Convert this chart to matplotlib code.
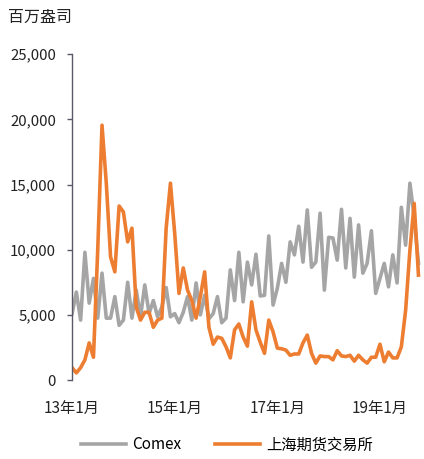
import matplotlib
matplotlib.use("Agg")
import matplotlib.pyplot as plt
from matplotlib.ticker import FuncFormatter

plt.rcParams["font.family"] = ["Noto Sans CJK SC", "DejaVu Sans"]

# monthly inventory, Jan 2013 - Oct 2019 (million ounces)
comex = [
    5100, 6750, 4600, 9800, 5900, 7800, 4750, 8200, 4750, 4750,
    6400, 4200, 4600, 7500, 4750, 6900, 4850, 7300, 5100, 6100,
    4850, 5600, 7100, 4850, 5100, 4400, 5200, 6400, 4600, 7450,
    5000, 6500, 4700, 5100, 6400, 4400, 4750, 8450, 6100, 9800,
    6000, 9050, 7300, 9650, 6450, 6500, 11050, 5750, 7050, 8950,
    7500, 10600, 9600, 11800, 9050, 13050, 8650, 9050, 12800, 6900,
    10950, 10900, 9200, 13100, 8600, 12400, 7900, 11900, 8200, 8950,
    11450, 6650, 7800, 8950, 7150, 9600, 7450, 13250, 10350, 15100,
    12500, 8950,
]
shfe = [
    950, 550, 950, 1550, 2850, 1750, 10000, 19550, 15100, 9450,
    8300, 13350, 12900, 10600, 11650, 5600, 4600, 5200, 5200, 4050,
    4600, 4750, 11650, 15100, 11250, 6650, 8600, 6900, 6100, 4750,
    6400, 8300, 4050, 2750, 3300, 3200, 2550, 1700, 3850, 4300,
    3300, 2600, 6000, 3850, 2900, 2050, 4600, 3700, 2450, 2400,
    2300, 1900, 2000, 2000, 2850, 3450, 2050, 1300, 1850, 1800,
    1800, 1550, 2250, 1850, 1800, 1900, 1450, 1900, 1550, 1300,
    1750, 1750, 2750, 1400, 2150, 1700, 1700, 2550, 5350, 9950,
    13550, 8050,
]
tick_pos = [0, 24, 48, 72]
tick_labels = ["13年1月", "15年1月", "17年1月", "19年1月"]

months = list(range(len(comex)))

fig = plt.figure(figsize=(4.24, 4.59), dpi=100)
ax = fig.add_axes([0.170, 0.172, 0.827, 0.710])

ax.plot(months, comex, color="#A5A5A5", lw=2.6, label="Comex", solid_joinstyle="round")
ax.plot(months, shfe, color="#ED7D31", lw=2.6, label="上海期货交易所", solid_joinstyle="round")

ax.set_xlim(0, 82)
ax.set_ylim(0, 25000)
ax.set_yticks(range(0, 25001, 5000))
ax.yaxis.set_major_formatter(FuncFormatter(lambda v, p: f"{int(v):,}"))
ax.set_xticks(tick_pos)
ax.set_xticklabels(tick_labels)

for s in ("top", "right", "bottom"):
    ax.spines[s].set_visible(False)
ax.spines["left"].set_color("#595968")
ax.spines["left"].set_linewidth(1.0)
ax.tick_params(axis="y", length=3.6, width=1.0, color="#595968", pad=8,
               labelsize=10.8, labelcolor="#222222")
ax.tick_params(axis="x", length=0, pad=14, labelsize=11, labelcolor="#222222")

fig.text(0.019, 0.963, "百万盎司", fontsize=11.5, color="#222222", va="center", ha="left")

fig.legend(loc="center", bbox_to_anchor=(0.536, 0.031), ncol=2, frameon=False,
           fontsize=11, handlelength=2.9, handletextpad=0.45, columnspacing=2.2)

fig.savefig("out.png", dpi=100)
